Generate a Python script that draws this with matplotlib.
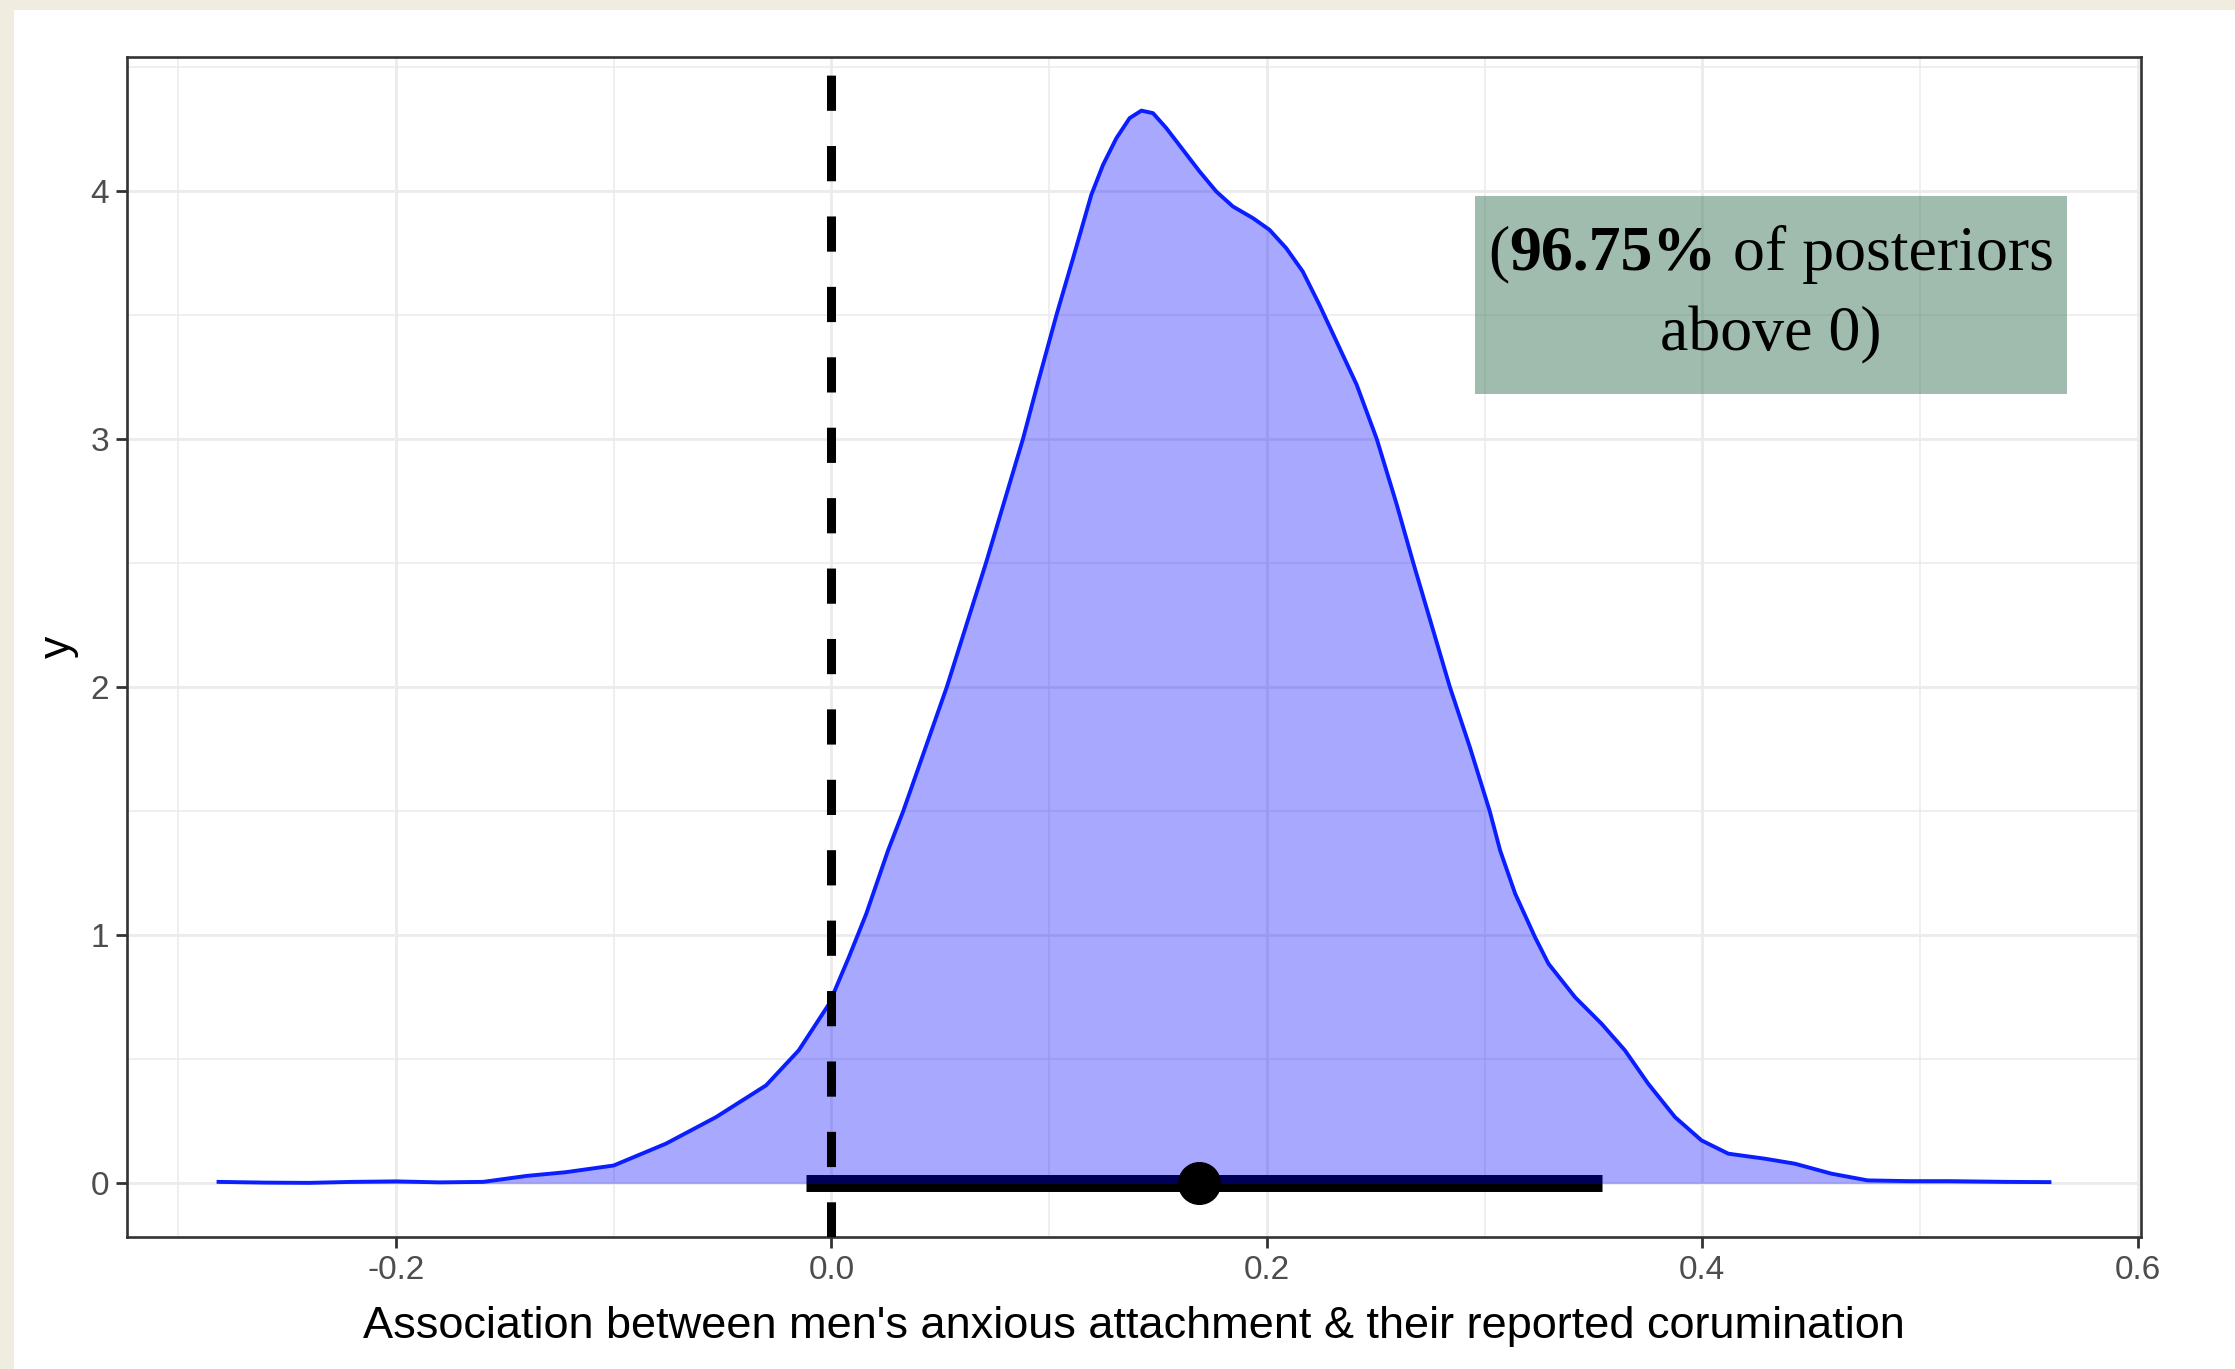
import matplotlib
matplotlib.use("Agg")
import matplotlib.pyplot as plt
from matplotlib.patches import Rectangle
from matplotlib.ticker import FixedLocator
from matplotlib.transforms import offset_copy

# Posterior density of the association estimate
density_x = [-0.2815, -0.26, -0.24, -0.22, -0.20, -0.18, -0.16, -0.14, -0.122, -0.10,
             -0.076, -0.053, -0.030, -0.015, -0.001, 0.008, 0.016, 0.026, 0.033, 0.053,
             0.071, 0.088, 0.095, 0.1034, 0.111, 0.1194, 0.1248, 0.1309, 0.137, 0.1424,
             0.1477, 0.1538, 0.1615, 0.1691, 0.1768, 0.1844, 0.1936, 0.2012, 0.2089, 0.2165,
             0.2242, 0.2413, 0.2505, 0.2596,
             0.2673, 0.2757, 0.2841, 0.2933, 0.3024, 0.3072, 0.3141, 0.3232, 0.3294, 0.3416,
             0.3538, 0.3645, 0.3752, 0.3875, 0.3997, 0.412, 0.4288, 0.4426, 0.4594, 0.476,
             0.495, 0.513, 0.54, 0.5595]
density_y = [0.006, 0.003, 0.002, 0.006, 0.008, 0.004, 0.006, 0.03, 0.045, 0.072,
             0.16, 0.267, 0.395, 0.536, 0.724, 0.911, 1.086, 1.341, 1.5, 2.0,
             2.5, 3.0, 3.231, 3.5, 3.728, 3.984, 4.105, 4.212, 4.293, 4.323,
             4.313, 4.253, 4.165, 4.078, 3.997, 3.937, 3.89, 3.843, 3.769, 3.675,
             3.54, 3.218, 3.0, 2.738,
             2.5, 2.25, 2.0, 1.757, 1.5, 1.341, 1.167, 0.992, 0.885, 0.75,
             0.643, 0.536, 0.4015, 0.267, 0.173, 0.1196, 0.0994, 0.0792, 0.039, 0.012,
             0.009, 0.009, 0.006, 0.005]

# Point estimate and interval
point_estimate = 0.169
interval_low = -0.0116
interval_high = 0.3538

x_major = [-0.2, 0.0, 0.2, 0.4, 0.6]
x_labels = ["-0.2", "0.0", "0.2", "0.4", "0.6"]
x_minor = [-0.3, -0.1, 0.1, 0.3, 0.5]
y_major = [0, 1, 2, 3, 4]
y_labels = ["0", "1", "2", "3", "4"]
y_minor = [0.5, 1.5, 2.5, 3.5, 4.5]

pct_text = "96.75%"
xlabel_text = "Association between men's anxious attachment & their reported corumination"

W, H = 2235, 1369
fig = plt.figure(figsize=(W / 100, H / 100), dpi=100, facecolor="white")

# cream page edges
fig.patches.append(Rectangle((0, 0), 14 / W, 1, transform=fig.transFigure,
                             facecolor="#F0ECE0", edgecolor="none", zorder=0))
fig.patches.append(Rectangle((0, 1 - 10 / H), 1, 10 / H, transform=fig.transFigure,
                             facecolor="#F0ECE0", edgecolor="none", zorder=0))

left, right, top, bottom = 127, 2141, 57, 1237
ax = fig.add_axes([left / W, 1 - bottom / H, (right - left) / W, (bottom - top) / H])
ax.set_facecolor("white")

xr = max(density_x) - min(density_x)
ax.set_xlim(min(density_x) - 0.05 * xr, max(density_x) + 0.05 * xr)
yr = max(density_y)
ax.set_ylim(-0.05 * yr, yr * 1.05)

ax.xaxis.set_major_locator(FixedLocator(x_major))
ax.xaxis.set_minor_locator(FixedLocator(x_minor))
ax.yaxis.set_major_locator(FixedLocator(y_major))
ax.yaxis.set_minor_locator(FixedLocator(y_minor))
ax.set_xticklabels(x_labels)
ax.set_yticklabels(y_labels)

ax.set_axisbelow(True)
ax.grid(which="major", color="#EBEBEB", linewidth=2.0)
ax.grid(which="minor", color="#EBEBEB", linewidth=1.1)

for sp in ax.spines.values():
    sp.set_color("#333333")
    sp.set_linewidth(1.9)

ax.tick_params(which="major", length=8, width=2.0, color="#333333",
               labelsize=24, labelcolor="#4D4D4D", pad=5)
ax.tick_params(which="minor", length=0)
for lab in ax.get_xticklabels() + ax.get_yticklabels():
    lab.set_family("Liberation Sans")

# interval bar sits beneath the density fill
ax.plot([interval_low, interval_high], [0, 0], color="black", linewidth=12.2,
        solid_capstyle="butt", zorder=2)
ax.fill_between(density_x, 0, density_y, color="blue", alpha=0.34, linewidth=0, zorder=3)
ax.plot(density_x, density_y, color="#0a1eff", linewidth=2.8, zorder=4,
        solid_joinstyle="round")
ax.axvline(0, color="black", linewidth=6.5, dashes=(3.9, 3.9), zorder=5)
ax.plot([point_estimate], [0], "o", color="black", markersize=30, zorder=6)

ax.set_xlabel(xlabel_text, fontsize=32.5, family="Liberation Sans", color="black")
ax.xaxis.set_label_coords(0.5, -0.0585)
ax.set_ylabel("y", fontsize=32, family="Liberation Sans", color="black")
ax.yaxis.set_label_coords(-0.024, 0.5)

# annotation box
bx0, bx1 = 0.2955, 0.5675
by0, by1 = 3.18, 3.98
ax.add_patch(Rectangle((bx0, by0), bx1 - bx0, by1 - by0, facecolor="#437B61",
                       alpha=0.5, edgecolor="none", zorder=7))

serif = "Liberation Serif"
fs = 46
cx = (bx0 + bx1) / 2
line1_y = (1183 - 247) / 248.3
line2_y = (1183 - 328) / 248.3

renderer = fig.canvas.get_renderer()
pieces = [("(", "normal"), (pct_text, "bold"), (" of posteriors", "normal")]
tmp = []
for s, w in pieces:
    t = ax.text(0, 0, s, fontsize=fs, family=serif, weight=w)
    tmp.append(t)
widths = [t.get_window_extent(renderer).width for t in tmp]
for t in tmp:
    t.remove()
total = sum(widths)
offset = -total / 2
for (s, w), wd in zip(pieces, widths):
    tr = offset_copy(ax.transData, fig=fig, x=offset * 72 / fig.dpi, y=0, units="points")
    ax.text(cx, line1_y, s, fontsize=fs, family=serif, weight=w, ha="left",
            va="center_baseline", transform=tr, zorder=8, color="black")
    offset += wd
ax.text(cx, line2_y, "above 0)", fontsize=fs, family=serif, ha="center",
        va="center_baseline", zorder=8, color="black")

fig.savefig("out.png", dpi=100, facecolor="white")
